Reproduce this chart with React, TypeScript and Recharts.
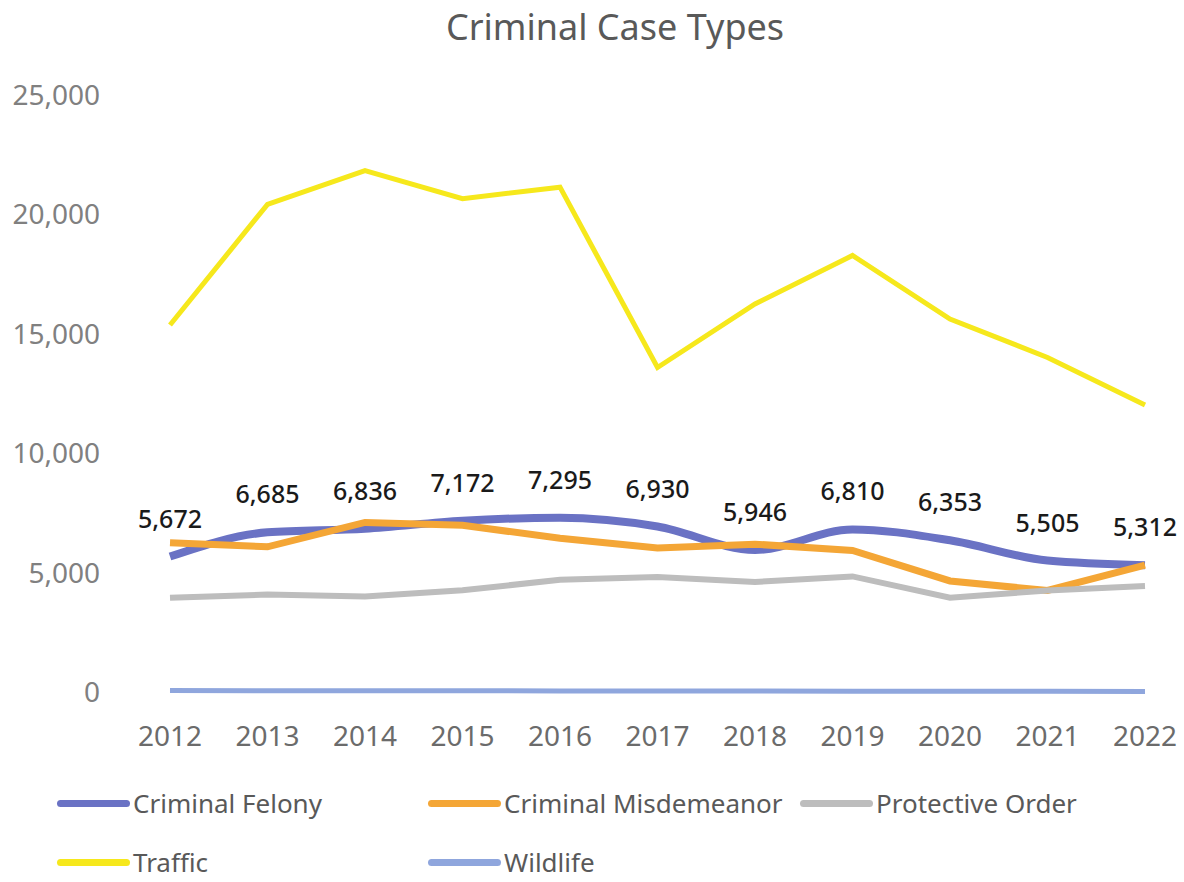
import React from 'react';
import { LineChart, Line, XAxis, YAxis, Legend, LabelList } from 'recharts';

const years = ['2012', '2013', '2014', '2015', '2016', '2017', '2018', '2019', '2020', '2021', '2022'];
const criminalFelony = [5672, 6685, 6836, 7172, 7295, 6930, 5946, 6810, 6353, 5505, 5312];
const criminalMisdemeanor = [6250, 6080, 7100, 6980, 6440, 6030, 6190, 5930, 4650, 4250, 5310];
const protectiveOrder = [3950, 4080, 4000, 4260, 4700, 4820, 4610, 4840, 3950, 4250, 4440];
const traffic = [15370, 20420, 21830, 20660, 21140, 13590, 16250, 18280, 15620, 14010, 12020];
const wildlife = [60, 55, 50, 50, 45, 40, 40, 35, 30, 30, 25];
const yTicks = [0, 5000, 10000, 15000, 20000, 25000];

const data = years.map((year, i) => ({
  year,
  felony: criminalFelony[i],
  misdemeanor: criminalMisdemeanor[i],
  protective: protectiveOrder[i],
  traffic: traffic[i],
  wildlife: wildlife[i],
}));

const FONT = '"Noto Sans", "Open Sans", sans-serif';

const colLefts = [57, 428, 800, 57, 428];
const rowTops = [21, 21, 21, 80, 80];

const renderLegend = (props: any) => {
  const payload = props.payload || [];
  return (
    <div style={{ position: 'relative', width: 1184, height: 100, fontFamily: FONT }}>
      {payload.map((entry: any, i: number) => (
        <div
          key={entry.value}
          style={{
            position: 'absolute',
            left: colLefts[i],
            top: rowTops[i] - 18,
            height: 36,
            display: 'flex',
            alignItems: 'center',
            whiteSpace: 'nowrap',
          }}
        >
          <span
            style={{
              display: 'inline-block',
              width: 73,
              height: 7,
              borderRadius: 4,
              background: entry.color,
              marginRight: 3,
            }}
          />
          <span style={{ fontSize: 26, color: '#595959' }}>{entry.value}</span>
        </div>
      ))}
    </div>
  );
};

export default function App() {
  return (
    <div style={{ position: 'absolute', left: 0, top: 0, width: 1184, height: 882, background: '#fff' }}>
      <div
        style={{
          position: 'absolute',
          left: 0,
          top: 0,
          width: 1230,
          textAlign: 'center',
          fontFamily: FONT,
          fontSize: 36,
          lineHeight: '54px',
          color: '#595959',
        }}
      >
        Criminal Case Types
      </div>
      <LineChart
        width={1184}
        height={882}
        data={data}
        margin={{ top: 95, right: 20, bottom: 0, left: 0 }}
      >
        <XAxis
          dataKey="year"
          axisLine={false}
          tickLine={false}
          height={90}
          tickMargin={28}
          padding={{ left: 62, right: 19 }}
          tick={{ fontSize: 28, fill: '#6b6b6b', fontFamily: FONT }}
          interval={0}
        />
        <YAxis
          domain={[0, 25000]}
          ticks={yTicks}
          axisLine={false}
          tickLine={false}
          width={108}
          tickFormatter={(v: number) => v.toLocaleString('en-US')}
          tick={{ fontSize: 28, fill: '#808080', fontFamily: FONT }}
        />
        <Legend verticalAlign="bottom" content={renderLegend} height={100} />
        <Line
          name="Criminal Felony"
          dataKey="felony"
          type="monotone"
          stroke="#6a72c4"
          strokeWidth={8}
          dot={false}
          isAnimationActive={false}
        >
          <LabelList
            dataKey="felony"
            position="top"
            offset={29}
            formatter={(v: any) => Number(v).toLocaleString('en-US')}
            style={{ fontSize: 25, fill: '#1a1a1a', fontFamily: FONT, fontWeight: 500 }}
          />
        </Line>
        <Line
          name="Criminal Misdemeanor"
          dataKey="misdemeanor"
          type="linear"
          stroke="#f4a636"
          strokeWidth={7}
          dot={false}
          isAnimationActive={false}
        />
        <Line
          name="Protective Order"
          dataKey="protective"
          type="linear"
          stroke="#bdbdbd"
          strokeWidth={6}
          dot={false}
          isAnimationActive={false}
        />
        <Line
          name="Traffic"
          dataKey="traffic"
          type="linear"
          stroke="#f6e81c"
          strokeWidth={5}
          dot={false}
          isAnimationActive={false}
        />
        <Line
          name="Wildlife"
          dataKey="wildlife"
          type="linear"
          stroke="#8fa6dd"
          strokeWidth={5}
          dot={false}
          isAnimationActive={false}
        />
      </LineChart>
    </div>
  );
}
